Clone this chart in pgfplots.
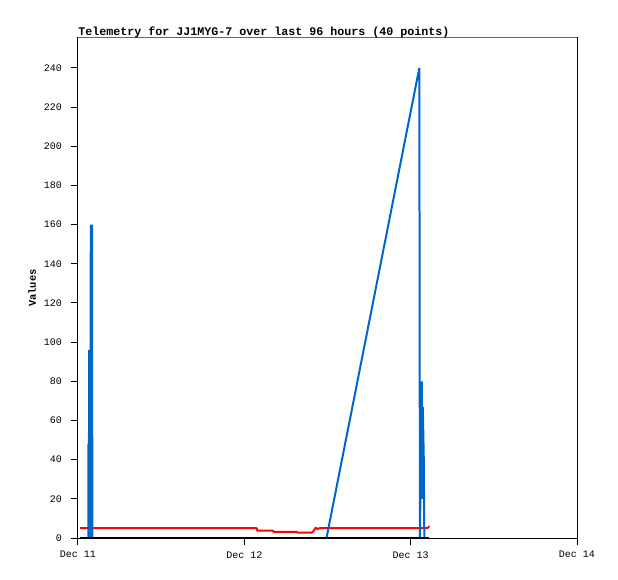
\documentclass[border=0pt]{standalone}
\usepackage{fontspec}
\setmainfont{Liberation Mono}
\usepackage{pgfplots}
\pgfplotsset{compat=1.18}
\definecolor{tblue}{HTML}{0066CC}
\definecolor{tred}{HTML}{FF0000}

\begin{document}
\begin{tikzpicture}
\useasboundingbox (-58.5pt,-30.75pt) rectangle (405pt,403.5pt);
\begin{axis}[
  at={(0,0)}, anchor=south west,
  scale only axis,
  width=374.25pt, height=375pt,
  xmin=0, xmax=3, ymin=0, ymax=255.3,
  axis line style={black, line width=0.75pt},
  tick align=outside,
  xtick pos=left, ytick pos=left,
  major tick length=5.5pt,
  tick style={black, line width=0.75pt},
  xtick={0,1,2,3},
  xticklabels={Dec 11,Dec 12,Dec 13,Dec 14},
  ytick={0,20,...,240},
  /pgf/number format/assume math mode=true,
  tick label style={font=\fontsize{7.5}{8}\selectfont},
  yticklabel style={xshift=-3pt},
  xticklabel style={yshift=-1pt},
  title={Telemetry for JJ1MYG-7 over last 96 hours (40 points)},
  title style={at={(rel axis cs:0,1)}, anchor=base west, yshift=-4.5pt,
    inner sep=0pt, font=\fontsize{8.75}{9}\selectfont\bfseries},
  ylabel={Values},
  ylabel style={at={(rel axis cs:-0.092,0.5)}, anchor=center,
    font=\fontsize{7.8}{8}\selectfont\bfseries},
  clip=true,
]
% battery-ish trace
\addplot[tred, line width=1.5pt, line join=bevel] coordinates {
(0.012,5) (1.074,5) (1.078,3.8) (1.170,3.8) (1.176,3.1) (1.314,3.1)
(1.320,2.7) (1.404,2.7) (1.416,3.5) (1.428,5.2) (1.440,4.6) (1.452,5)
(2.100,5) (2.112,6)
};
% spiky trace
\addplot[tblue, line width=1.5pt, line join=bevel] coordinates {
(0.062,0) (0.063,48) (0.065,0) (0.067,96) (0.069,0) (0.071,96) (0.073,0)
(0.077,160) (0.079,0) (0.081,160) (0.083,0) (0.085,160) (0.086,0)
(1.494,0) (2.052,240) (2.0556,0) (2.067,80) (2.070,20)
(2.073,67) (2.079,40) (2.082,0)
};
% zero trace
\addplot[black, line width=1.5pt] coordinates {(0.012,0) (2.112,0)};
\draw[black!60, line width=0.75pt] (rel axis cs:0,1) -- (rel axis cs:1,1) -- (rel axis cs:1,0);
\end{axis}
\end{tikzpicture}
\end{document}
